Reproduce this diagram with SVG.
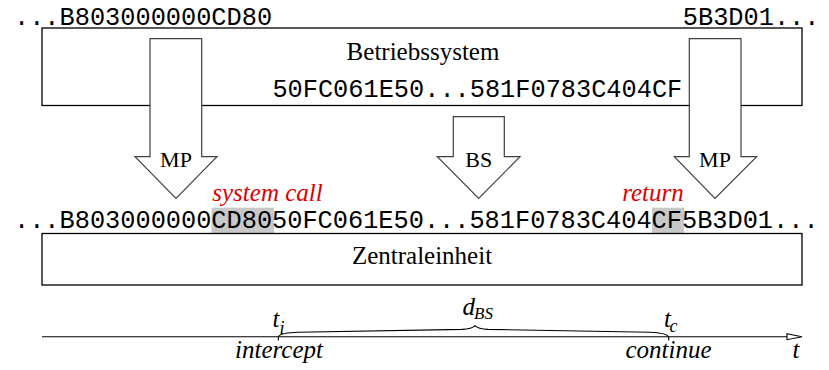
<svg xmlns="http://www.w3.org/2000/svg" width="829" height="370" viewBox="0 0 829 370">
<style>
.mono{font-family:"Liberation Mono","Courier New",monospace;font-size:25.3px;fill:#000}
.serif{font-family:"Liberation Serif","Times New Roman",serif;fill:#000}
.lbl{font-size:25px}
.ar{font-size:22px}
.it{font-family:"Liberation Serif","Times New Roman",serif;font-style:italic;fill:#000}
.red{fill:#e00000;font-size:25px}
.box{fill:#fff;stroke:#000;stroke-width:1.3}
.barrow{fill:#fff;stroke:#404040;stroke-width:1.2}
.axis{fill:none;stroke:#000;stroke-width:1.1}
</style>
<rect width="829" height="370" fill="#fff"/>
<g id="os">
<rect class="box" x="42" y="28" width="760" height="77.5"/>
<text class="serif lbl" x="423" y="60" text-anchor="middle">Betriebssystem</text>
<text class="mono" x="272.4" y="97">50FC061E50...581F0783C404CF</text>
</g>
<text class="mono" x="14" y="25">...B803000000CD80</text>
<text class="mono" x="682.8" y="25">5B3D01...</text>
<g id="connectors">
<g id="arrow-mp1">
<polygon class="barrow" points="150,38.7 201.7,38.7 201.7,156.7 217,156.7 176,198.3 135,156.7 150,156.7"/>
<text class="serif ar" x="176" y="166.7" text-anchor="middle">MP</text>
</g>
<g id="arrow-bs">
<polygon class="barrow" points="453.3,116.7 504.3,116.7 504.3,156.7 520,156.7 478.7,198.3 437.3,156.7 453.3,156.7"/>
<text class="serif ar" x="478.7" y="166.7" text-anchor="middle">BS</text>
</g>
<g id="arrow-mp2">
<polygon class="barrow" points="689.3,38.7 741,38.7 741,156.7 756.7,156.7 715,198.3 674.3,156.7 689.3,156.7"/>
<text class="serif ar" x="715" y="166.7" text-anchor="middle">MP</text>
</g>
</g>
<g id="stream">
<rect x="211.5" y="207.7" width="62.5" height="25.8" fill="#c8c8c8"/>
<rect x="652" y="207.7" width="32" height="25.8" fill="#c8c8c8"/>
<text class="mono" x="14" y="228">...B803000000CD8050FC061E50...581F0783C404CF5B3D01...</text>
<text class="it red" x="267.5" y="201" text-anchor="middle">system call</text>
<text class="it red" x="653" y="201" text-anchor="middle">return</text>
</g>
<g id="cpu">
<rect class="box" x="42" y="233.5" width="760" height="51.5"/>
<text class="serif lbl" x="422" y="264" text-anchor="middle">Zentraleinheit</text>
</g>
<g id="timeline">
<line class="axis" x1="42" y1="336.7" x2="787" y2="336.7"/>
<polygon points="787,333.7 802,336.7 787,339.7" fill="#fff" stroke="#000" stroke-width="1.1"/>
<line class="axis" x1="278.3" y1="336.7" x2="278.3" y2="340.5"/>
<line class="axis" x1="668.7" y1="336.7" x2="668.7" y2="340.5"/>
<path class="axis" d="M278.3,336.7 Q281,332.6 298,332.2 L462,329.4 Q472,329 475,325.7 Q478,329 488,329.4 L650,332.2 Q666,332.6 668.7,336.7"/>
<text class="it" font-size="25" x="272.5" y="327">t</text>
<text class="it" font-size="18" x="279.5" y="333.5">i</text>
<text class="it" font-size="25" x="462.5" y="315">d</text>
<text class="it" font-size="17" x="474" y="319">BS</text>
<text class="it" font-size="25" x="664" y="327">t</text>
<text class="it" font-size="18" x="669.5" y="332">c</text>
<text class="it" font-size="25" x="279" y="358" text-anchor="middle">intercept</text>
<text class="it" font-size="25" x="668.5" y="358" text-anchor="middle">continue</text>
<text class="it" font-size="25" x="792.5" y="358">t</text>
</g>
</svg>
